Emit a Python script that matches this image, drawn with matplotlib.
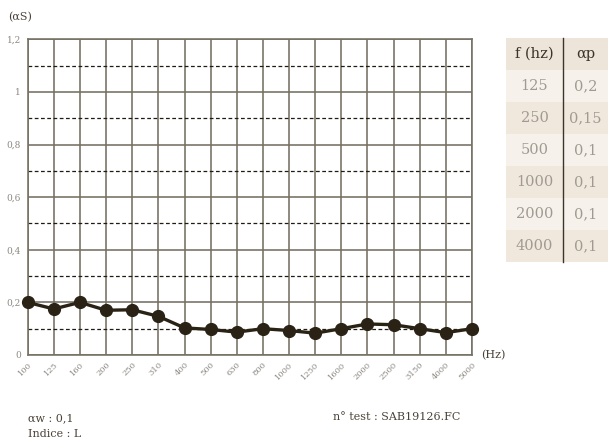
import matplotlib
matplotlib.use("Agg")
import matplotlib.pyplot as plt
from matplotlib.patches import Rectangle

freq_labels = ["100", "125", "160", "200", "250", "310", "400", "500", "630", "800",
               "1000", "1250", "1600", "2000", "2500", "3150", "4000", "5000"]
alpha_s = [0.20, 0.175, 0.20, 0.17, 0.172, 0.147, 0.103, 0.097, 0.087, 0.10,
           0.093, 0.083, 0.10, 0.118, 0.115, 0.10, 0.085, 0.10]
y_ticks = [0, 0.2, 0.4, 0.6, 0.8, 1.0, 1.2]
y_tick_labels = ["0", "0,2", "0,4", "0,6", "0,8", "1", "1,2"]
dashed_levels = [0.1, 0.3, 0.5, 0.7, 0.9, 1.1]

table_freq = ["125", "250", "500", "1000", "2000", "4000"]
table_ap = ["0,2", "0,15", "0,1", "0,1", "0,1", "0,1"]

plt.rcParams['font.family'] = ['DejaVu Serif']

W, H = 610, 443
fig = plt.figure(figsize=(W / 100, H / 100), dpi=100)

def fx(px):
    return px / W

def fy(py):
    return 1 - py / H

left, right, top, bottom = 27.7, 472, 39.3, 355
ax = fig.add_axes([fx(left), fy(bottom), fx(right - left), fy(top) - fy(bottom)])
n = len(freq_labels)
xs = list(range(n))
ax.set_xlim(0, n - 1)
ax.set_ylim(0, 1.2)

grid_col = '#767063'
for x in xs:
    ax.axvline(x, color=grid_col, lw=1.15, zorder=1)
for y in y_ticks:
    ax.axhline(y, color=grid_col, lw=1.15, zorder=1)
for y in dashed_levels:
    ax.axhline(y, color='#1f1a12', lw=0.9, ls=(0, (3, 2)), zorder=1)

for s in ax.spines.values():
    s.set_color(grid_col)
    s.set_linewidth(1.15)

ax.plot(xs, alpha_s, color='#2a2214', lw=2.4, marker='o', ms=8.5,
        markerfacecolor='#2a2214', markeredgecolor='#2a2214', zorder=5, clip_on=False)

ax.set_xticks(xs)
ax.set_xticklabels(freq_labels, rotation=45, ha='right', va='top',
                   rotation_mode='anchor', fontsize=6, color='#8c8882')
ax.set_yticks(y_ticks)
ax.set_yticklabels(y_tick_labels, fontsize=6.5, color='#8c8882')
ax.tick_params(length=0, pad=5)
ax.tick_params(axis='x', pad=4)

fig.text(fx(8), fy(17), "(αS)", fontsize=8, color='#4a4238', va='center', ha='left')
fig.text(fx(481), fy(355), "(Hz)", fontsize=8, color='#4a4238', va='center', ha='left')

fig.text(fx(28), fy(418), "αw : 0,1", fontsize=8, color='#4a4238', va='center', ha='left')
fig.text(fx(28), fy(434), "Indice : L", fontsize=8, color='#4a4238', va='center', ha='left')
fig.text(fx(333), fy(417), "n° test : SAB19126.FC", fontsize=8, color='#4a4238', va='center', ha='left')

# table
tax = fig.add_axes([0, 0, 1, 1])
tax.set_xlim(0, W)
tax.set_ylim(H, 0)
tax.axis('off')
tl, tr, tdiv = 506, 608, 563
ttop, hdr_h, row_h = 38, 32, 32
tax.add_patch(Rectangle((tl, ttop), tr - tl, hdr_h, color='#ede5d9', lw=0))
tax.text((tl + tdiv) / 2, ttop + hdr_h / 2, "f (hz)", fontsize=10.5, color='#3c342a',
         ha='center', va='center')
tax.text((tdiv + tr) / 2, ttop + hdr_h / 2, "αp", fontsize=10.5, color='#3c342a',
         ha='center', va='center')
for i, (f, a) in enumerate(zip(table_freq, table_ap)):
    y0 = ttop + hdr_h + i * row_h
    col = '#f6f2eb' if i % 2 == 0 else '#f0e8dd'
    tax.add_patch(Rectangle((tl, y0), tr - tl, row_h, color=col, lw=0))
    tax.text((tl + tdiv) / 2, y0 + row_h / 2, f, fontsize=10.5, color='#a09a92',
             ha='center', va='center')
    tax.text((tdiv + tr) / 2, y0 + row_h / 2, a, fontsize=10.5, color='#a09a92',
             ha='center', va='center')
tax.plot([tdiv, tdiv], [ttop, ttop + hdr_h + len(table_freq) * row_h], color='#3c342a', lw=1)

fig.savefig("out.png", dpi=100)
